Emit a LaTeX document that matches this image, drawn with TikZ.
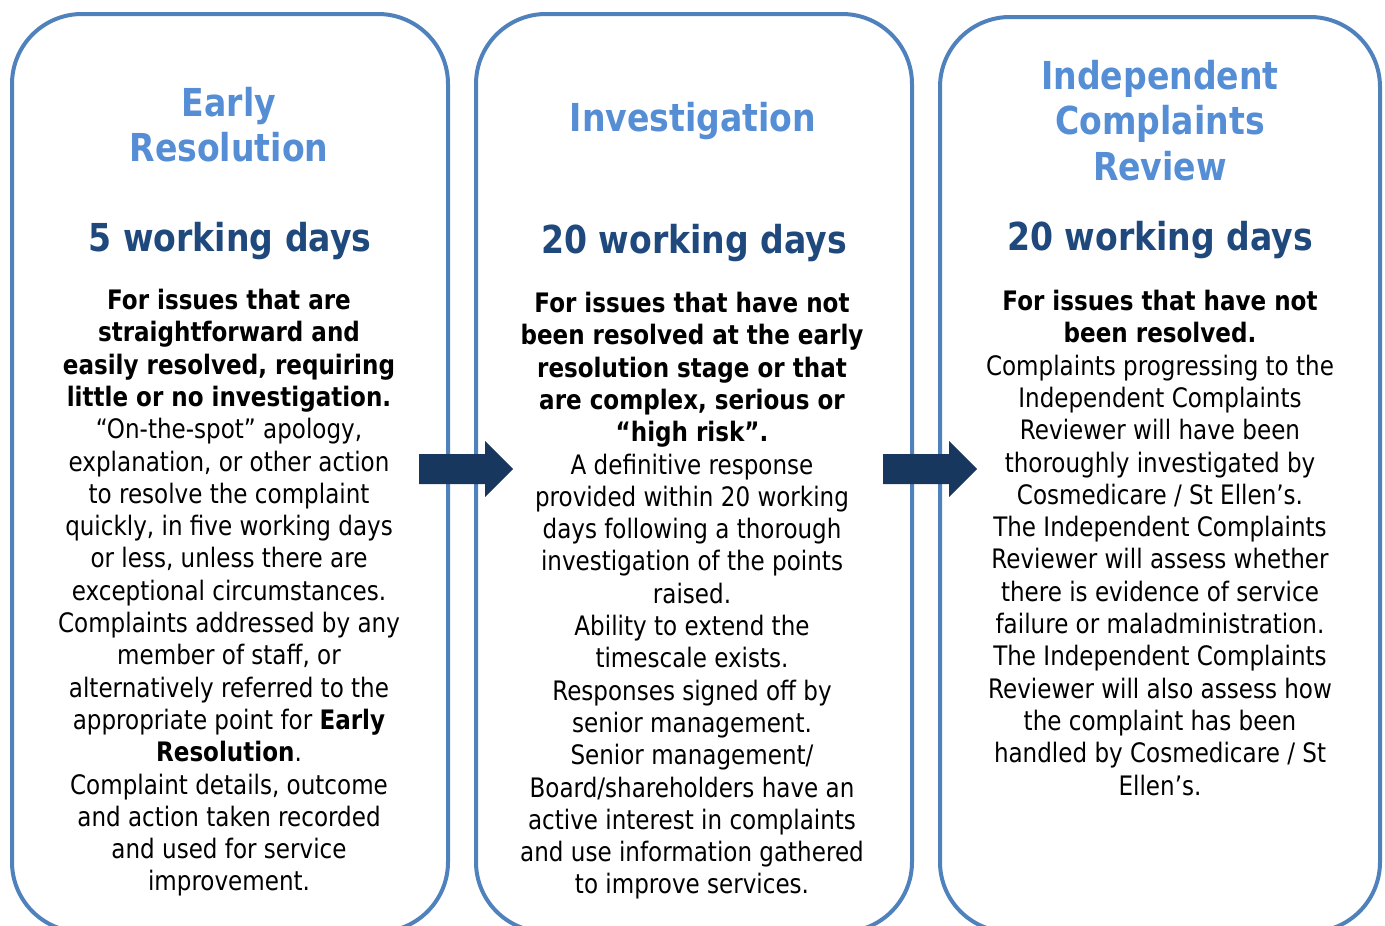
\documentclass[tikz,border=0pt]{standalone}
\usepackage{fontspec}
\setmainfont[FakeStretch=0.86]{DejaVu Sans}
\usetikzlibrary{positioning}

\definecolor{boxblue}{HTML}{4F81BD}
\definecolor{titleblue}{HTML}{558ED5}
\definecolor{daysblue}{HTML}{1F497D}
\definecolor{arrowblue}{HTML}{17375E}

\tikzset{
  stage/.style={draw=boxblue, line width=4pt, rounded corners=70pt, minimum width=436pt, minimum height=918pt},
  heading/.style={text=titleblue, font=\fontsize{38.5}{45.5}\selectfont\bfseries, align=center, anchor=base, inner sep=0pt},
  days/.style={text=daysblue, font=\fontsize{38.5}{45.5}\selectfont\bfseries, anchor=base, inner sep=0pt},
  body/.style={font=\fontsize{26.8}{32.3}\selectfont, align=center, anchor=base, inner sep=0pt},
  flow/.style={fill=arrowblue}
}

\begin{document}
\begin{tikzpicture}[x=1pt, y=1pt]
  \useasboundingbox (0,0) rectangle (1385,-926);
  \clip (0,0) rectangle (1385,-926);

  % the three stages
  \node[stage] (early) at (230,-473) {};
  \node[stage] (invest) at (694,-473) {};
  \node[stage, minimum width=440pt, minimum height=915pt] (review) at (1160,-474.5) {};

  % block arrows between the stages
  \foreach \ax in {419,883}
    \fill[flow] (\ax,-454) -- ++(66,0) -- ++(0,13) -- ++(28,-28) -- ++(-28,-28) -- ++(0,13) -- ++(-66,0) -- cycle;

  % early resolution (base = last line)
  \node[heading] (earlyhead) at (229,-161.7) {Early\\Resolution};
  \node[days] (earlydays) at (230,-251.5) {5 working days};
  \node[body] (earlytext) at (229,-890.9) {\textbf{For issues that are}\\
    \textbf{straightforward and}\\
    \textbf{easily resolved, requiring}\\
    \textbf{little or no investigation.}\\
    “On-the-spot” apology,\\
    explanation, or other action\\
    to resolve the complaint\\
    quickly, in five working days\\
    or less, unless there are\\
    exceptional circumstances.\\
    Complaints addressed by any\\
    member of staff, or\\
    alternatively referred to the\\
    appropriate point for \textbf{Early}\\
    \textbf{Resolution}.\\
    Complaint details, outcome\\
    and action taken recorded\\
    and used for service\\
    improvement.};

  % investigation
  \node[heading] (investhead) at (693,-131) {Investigation};
  \node[days] (investdays) at (694,-253) {20 working days};
  \node[body] (investtext) at (692,-893.9) {\textbf{For issues that have not}\\
    \textbf{been resolved at the early}\\
    \textbf{resolution stage or that}\\
    \textbf{are complex, serious or}\\
    \textbf{“high risk”.}\\
    A definitive response\\
    provided within 20 working\\
    days following a thorough\\
    investigation of the points\\
    raised.\\
    Ability to extend the\\
    timescale exists.\\
    Responses signed off by\\
    senior management.\\
    Senior management/\\
    Board/shareholders have an\\
    active interest in complaints\\
    and use information gathered\\
    to improve services.};

  % independent review
  \node[heading] (reviewhead) at (1160,-180) {Independent\\Complaints\\Review};
  \node[days] (reviewdays) at (1160,-250) {20 working days};
  \node[body] (reviewtext) at (1160,-795) {\textbf{For issues that have not}\\
    \textbf{been resolved.}\\
    Complaints progressing to the\\
    Independent Complaints\\
    Reviewer will have been\\
    thoroughly investigated by\\
    Cosmedicare / St Ellen’s.\\
    The Independent Complaints\\
    Reviewer will assess whether\\
    there is evidence of service\\
    failure or maladministration.\\
    The Independent Complaints\\
    Reviewer will also assess how\\
    the complaint has been\\
    handled by Cosmedicare / St\\
    Ellen’s.};
\end{tikzpicture}
\end{document}
